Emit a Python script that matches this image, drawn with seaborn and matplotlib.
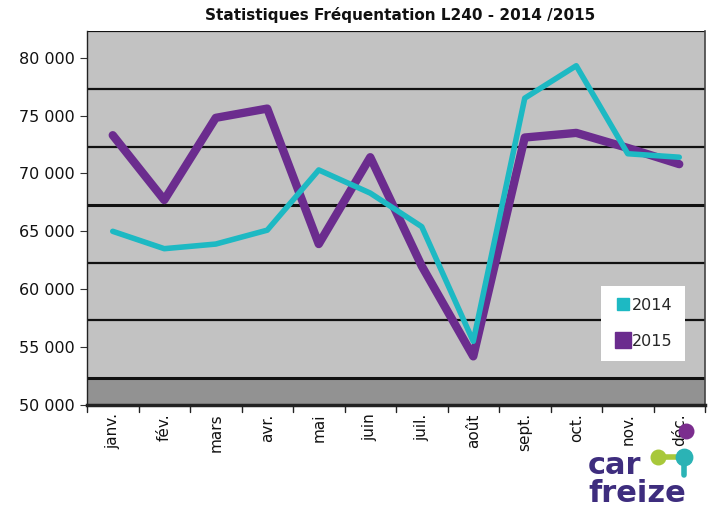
import matplotlib
matplotlib.use("Agg")
import matplotlib.pyplot as plt
import seaborn as sns
import pandas as pd
import numpy as np
from matplotlib.ticker import FuncFormatter
from matplotlib.lines import Line2D

months = ["janv.", "fév.", "mars", "avr.", "mai", "juin", "juil.", "août", "sept.", "oct.", "nov.", "déc."]
v2014 = [65000, 63500, 63900, 65100, 70300, 68300, 65400, 55500, 76500, 79300, 71700, 71400]
v2015 = [73300, 67700, 74800, 75600, 63900, 71400, 62000, 54200, 73100, 73500, 72200, 70800]
yticks = [50000, 55000, 60000, 65000, 70000, 75000, 80000]
grid_levels = [52300, 57300, 62300, 67300, 72300, 77300, 82300]

c14 = "#1DB9C3"
c15 = "#6B2C8E"

sns.set_theme(style="white")
plt.rcParams['font.family'] = ['DejaVu Sans']

fig = plt.figure(figsize=(7.09, 5.13), dpi=100)
ax = fig.add_axes([87/709, 1 - 405/513, (705-87)/709, (405-31)/513])
ax.set_facecolor("#C2C2C2")

x = np.arange(12)
sns.lineplot(x=x, y=v2015, ax=ax, color=c15, linewidth=6, solid_capstyle="round", solid_joinstyle="round", zorder=3)
sns.lineplot(x=x, y=v2014, ax=ax, color=c14, linewidth=4, solid_capstyle="round", solid_joinstyle="round", zorder=4)

ax.set_xlim(-0.5, 11.5)
ax.set_ylim(50000, 82300)
ax.axhspan(50000, grid_levels[0], color="#929292", zorder=1)
for g in grid_levels:
    lw = 2.2 if g in (67300, 52300) else 1.6
    ax.axhline(g, color="#111111", linewidth=lw, zorder=2)

ax.set_yticks(yticks)
ax.yaxis.set_major_formatter(FuncFormatter(lambda v, p: f"{int(v):,}".replace(",", " ")))
ax.set_xticks(x)
ax.set_xticklabels(months, rotation=90, fontsize=11, color="#111111")
ax.tick_params(axis="y", labelsize=11.5, labelcolor="#111111", length=5, width=0.8, color="#333333", left=True, pad=4)
ax.tick_params(axis="x", length=0, pad=6)
for xb in np.arange(-0.5, 12, 1):
    ax.plot([xb, xb], [50000, 50000 - 32300*0.018], color="#222222", lw=1, clip_on=False)
for s in ["left", "bottom"]:
    ax.spines[s].set_color("#222222")
    ax.spines[s].set_linewidth(1.0)
ax.spines["bottom"].set_linewidth(2.5)
ax.spines["top"].set_visible(False)
ax.spines["right"].set_color("#444444")
ax.spines["right"].set_linewidth(1.2)
ax.set_xlabel("")
ax.set_ylabel("")

fig.text(400/709, 1 - 15/513, "Statistiques Fréquentation L240 - 2014 /2015",
         ha="center", va="center", fontsize=11, fontweight="bold", color="#111111")

handles = [Line2D([], [], marker="s", linestyle="", color=c14, markersize=8),
           Line2D([], [], marker="s", linestyle="", color=c15, markersize=12)]
leg = ax.legend(handles, ["2014", "2015"], loc="upper left",
                bbox_to_anchor=((601-87)/618, (405-286)/374), frameon=True, borderaxespad=0,
                fancybox=False, framealpha=1, edgecolor="white", fontsize=11.5,
                handletextpad=0.0, labelspacing=1.3, borderpad=0.75, handlelength=1.2)
leg.get_frame().set_linewidth(0)

# logo
fig.text(588/709, 1 - 466/513, "car", fontsize=22, fontweight="bold", color="#3E2D7E", ha="left", va="center")
fig.text(588/709, 1 - 493/513, "freize", fontsize=22, fontweight="bold", color="#3E2D7E", ha="left", va="center")
lax = fig.add_axes([0, 0, 1, 1], facecolor="none")
lax.set_xlim(0, 709); lax.set_ylim(513, 0); lax.axis("off")
lax.plot([658, 684], [457, 457], color="#A8C83A", lw=4)
lax.plot([684, 684], [457, 475], color="#2BB3B5", lw=4)
lax.scatter([658], [457], s=110, color="#A8C83A", zorder=5)
lax.scatter([684], [457], s=140, color="#2BB3B5", zorder=5)
lax.scatter([686], [431], s=110, color="#7B2D8E", zorder=5)

fig.savefig("out.png", dpi=100, facecolor="white")
